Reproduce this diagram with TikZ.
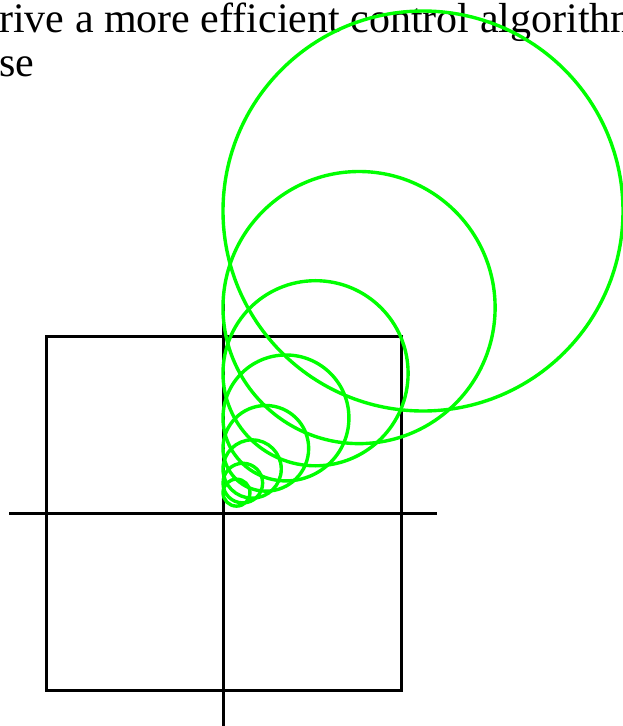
\documentclass[tikz,border=0pt]{standalone}
\usepackage{fontspec}
\setmainfont{Liberation Serif}
\usepackage{tikz}
\usetikzlibrary{positioning}
\definecolor{ringgreen}{HTML}{00FF00}

\begin{document}
\begin{tikzpicture}[x=1pt,y=-1pt,
  every node/.style={font=\fontsize{42}{44}\selectfont,inner sep=0pt},
  axisline/.style={black,line width=3pt},
  ring/.style={ringgreen,line width=3.4pt}]
\useasboundingbox (0,0) rectangle (623,726);
\clip (0,0) rectangle (623,726);

\node[anchor=base west] (topline) at (-1,32) {rive a more efficient control algorithm};
\node[anchor=base west] (nextline) at (-1,76) {se};

% square and axes
\draw[axisline] (46,336) rectangle (401,690);
\draw[axisline] (9,513) -- (437,513);
\draw[axisline] (223,298) -- (223,730);

% circles, each tangent to the vertical axis
\foreach \n in {0,...,7}{
  \pgfmathsetmacro{\r}{200/1.47^\n}
  \draw[ring] ({223+\r},{513-1.51*\r}) circle[radius=\r pt];
}
\end{tikzpicture}
\end{document}
